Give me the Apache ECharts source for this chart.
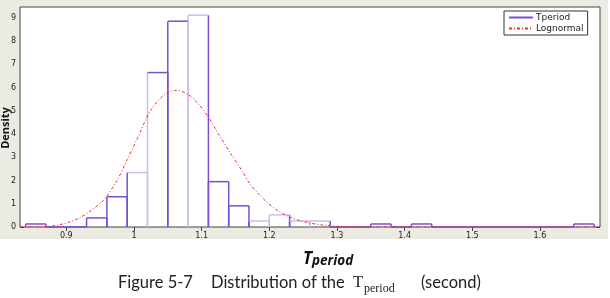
<!DOCTYPE html>
<html><head><meta charset="utf-8">
<script src="https://cdn.jsdelivr.net/npm/echarts@6/dist/echarts.min.js"></script>
<style>html,body{margin:0;padding:0;background:#fff}#c{width:610px;height:298px}</style>
</head><body><div id="c"></div>
<script>
// ---- data ----
const binEdges = [0.84,0.87,0.90,0.93,0.96,0.99,1.02,1.05,1.08,1.11,1.14,1.17,1.20,1.23,1.26,1.29,1.32,1.35,1.38,1.41,1.44,1.47,1.50,1.53,1.56,1.59,1.62,1.65,1.68];
const densities = [0.13,0,0,0.39,1.30,2.34,6.64,8.85,9.11,1.95,0.91,0.26,0.52,0.26,0.26,0,0,0.13,0,0.13,0,0,0,0,0,0,0,0.13];
const curveX = [0.8316,0.86,0.876,0.89,0.9055,0.92,0.935,0.955,0.975,0.99,1.004,1.024,1.045,1.063,1.08,1.095,1.11,1.125,1.142,1.16,1.171,1.185,1.196,1.21,1.23,1.245,1.26,1.28,1.30,1.35,1.6887];
const curveY = [0,0.01,0.03,0.1,0.22,0.4,0.68,1.15,2.0,2.9,3.74,4.98,5.7,5.88,5.7,5.3,4.72,4.0,3.2,2.4,1.87,1.4,1.08,0.75,0.43,0.28,0.17,0.08,0.03,0.005,0];
const xTicks = [0.9,1,1.1,1.2,1.3,1.4,1.5,1.6];
const yTicks = [0,1,2,3,4,5,6,7,8,9];
const xRange = [0.8316,1.6887];
const yRange = [0,9.46];
const seriesNames = ['Tperiod','Lognormal'];

// ---- build ----
const histData = densities.map((d,i)=>[binEdges[i],binEdges[i+1],d]);
const curveData = curveX.map((x,i)=>[x,curveY[i]]);
const DARK='#7a4fcf', LIGHT='#c9bdf0';
const lightEdges = new Set([6,8,12,14]);
const lightTops = new Set([5,8,11,12,13,14]);

const chart = echarts.init(document.getElementById('c'),null,{renderer:'canvas'});
const tickStyle = {show:true,inside:true,length:4,lineStyle:{color:'#444',width:1}};
const lblFont = {fontFamily:'DejaVu Sans',fontSize:8,color:'#222'};
const capFont = '16.5px Lato';
chart.setOption({
  backgroundColor:'#fff',
  animation:false,
  grid:{left:20,right:10,top:7,bottom:71,show:true,backgroundColor:'#fff',borderColor:'#444',borderWidth:1,z:1},
  xAxis:[
    {type:'value',min:xRange[0],max:xRange[1],position:'bottom',
     axisLine:{show:false},splitLine:{show:false},
     axisTick:Object.assign({customValues:xTicks},tickStyle),
     axisLabel:Object.assign({customValues:xTicks,margin:5,formatter:v=>String(+v.toFixed(2))},lblFont)},
    {type:'value',min:xRange[0],max:xRange[1],position:'top',
     axisLine:{show:false},splitLine:{show:false},
     axisTick:Object.assign({customValues:xTicks},tickStyle),axisLabel:{show:false}}
  ],
  yAxis:[
    {type:'value',min:yRange[0],max:yRange[1],position:'left',
     axisLine:{show:false},splitLine:{show:false},
     axisTick:Object.assign({customValues:yTicks},tickStyle),
     axisLabel:Object.assign({customValues:yTicks,margin:4},lblFont)},
    {type:'value',min:yRange[0],max:yRange[1],position:'right',
     axisLine:{show:false},splitLine:{show:false},
     axisTick:Object.assign({customValues:yTicks},tickStyle),axisLabel:{show:false}}
  ],
  legend:{data:seriesNames,orient:'vertical',left:504,top:11,itemGap:2,itemWidth:24,itemHeight:8,
    padding:[2,4,2,4],borderColor:'#333',borderWidth:1,backgroundColor:'#fff',
    itemStyle:{color:'transparent',opacity:0,borderWidth:0},
    textStyle:{fontFamily:'DejaVu Sans',fontSize:9,color:'#222',padding:[0,0,0,-2]},selectedMode:false},
  graphic:[
    {type:'rect',z:-100,silent:true,shape:{x:0,y:0,width:608,height:239},style:{fill:'#ecebe3'}},
    {type:'text',x:6,y:128,rotation:Math.PI/2,z:10,style:{text:'Density',font:'bold 11px "Open Sans"',fill:'#111',align:'center',verticalAlign:'middle'}},
    {type:'text',x:303,y:251,z:10,style:{text:'{t|T}{p|period}',align:'left',verticalAlign:'top',
      rich:{t:{font:'bold italic 17px "Open Sans"',fill:'#111',verticalAlign:'bottom'},p:{font:'bold italic 13.5px "Open Sans"',fill:'#111',verticalAlign:'bottom'}}}},
    {type:'text',x:118,y:283,z:10,style:{text:'Figure 5-7',font:capFont,fill:'#222',verticalAlign:'middle'}},
    {type:'text',x:211,y:283,z:10,style:{text:'Distribution of the',font:capFont,fill:'#222',verticalAlign:'middle'}},
    {type:'text',x:353,y:283,z:10,style:{text:'T',font:'16.5px "Liberation Serif"',fill:'#222',verticalAlign:'middle'}},
    {type:'text',x:364,y:289,z:10,style:{text:'period',font:'12px "Liberation Serif"',fill:'#222',verticalAlign:'middle'}},
    {type:'text',x:421,y:283,z:10,style:{text:'(second)',font:capFont,fill:'#222',verticalAlign:'middle'}}
  ],
  series:[
    {type:'custom',name:'hist',xAxisIndex:0,yAxisIndex:0,data:histData,encode:{x:[0,1],y:2},z:2,
     renderItem:function(params,api){
       const i=params.dataIndex;
       const a=api.coord([api.value(0),0]), b=api.coord([api.value(1),api.value(2)]);
       const lw=1.5;
       const kids=[];
       if(api.value(2)>0){
         kids.push({type:'line',shape:{x1:a[0],y1:a[1],x2:a[0],y2:b[1]},style:{stroke:lightEdges.has(i)?LIGHT:DARK,lineWidth:lw}});
         kids.push({type:'line',shape:{x1:b[0],y1:a[1],x2:b[0],y2:b[1]},style:{stroke:lightEdges.has(i+1)?LIGHT:DARK,lineWidth:lw}});
       }
       kids.push({type:'line',shape:{x1:a[0],y1:b[1],x2:b[0],y2:b[1]},style:{stroke:lightTops.has(i)?LIGHT:DARK,lineWidth:lw}});
       return {type:'group',children:kids};
     }},
    {type:'line',name:seriesNames[0],data:[],symbol:'none',lineStyle:{color:DARK,width:1.5},itemStyle:{color:DARK}},
    {type:'line',name:seriesNames[1],data:curveData,symbol:'none',smooth:0.3,z:3,
     lineStyle:{color:'#e8352e',width:1,type:[3,2,1,2]},itemStyle:{color:'#e8352e'}}
  ]
});
</script></body></html>
